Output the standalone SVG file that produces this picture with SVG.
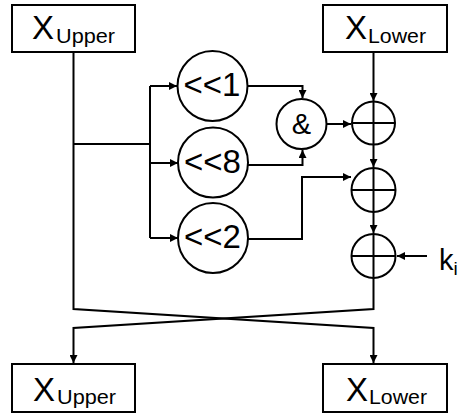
<svg xmlns="http://www.w3.org/2000/svg" width="462" height="414" viewBox="0 0 462 414">
<style>
.box{fill:#fff;stroke:#000;stroke-width:2}
.circ{fill:#fff;stroke:#000;stroke-width:2}
.ln{fill:none;stroke:#000;stroke-width:2}
.big{font-family:"Liberation Sans",Arial,sans-serif;font-size:33px;fill:#000}
.sub{font-family:"Liberation Sans",Arial,sans-serif;font-size:20px;fill:#000}
.op{font-family:"Liberation Sans",Arial,sans-serif;font-size:33px;fill:#000;text-anchor:middle}
</style>
<defs>
<marker id="arr" markerUnits="userSpaceOnUse" markerWidth="9" markerHeight="8" refX="8" refY="4" orient="auto">
<path d="M0,0 L8,4 L0,8 z" fill="#000"/>
</marker>
</defs>
<g id="connectors" class="ln">
<path d="M73.5,52 V309 L373.5,328 V363" marker-end="url(#arr)"/>
<path d="M373.5,278 V309 L73.5,328 V363" marker-end="url(#arr)"/>
<path d="M73.5,144 H150"/>
<path d="M150,86 V238"/>
<path d="M150,86 H177" marker-end="url(#arr)"/>
<path d="M150,163 H178" marker-end="url(#arr)"/>
<path d="M150,238 H178" marker-end="url(#arr)"/>
<path d="M247,86 H302.5 V98" marker-end="url(#arr)"/>
<path d="M248,165 H302.5 V150" marker-end="url(#arr)"/>
<path d="M327,124 H351" marker-end="url(#arr)"/>
<path d="M373.5,52 V101" marker-end="url(#arr)"/>
<path d="M373.5,145 V167" marker-end="url(#arr)"/>
<path d="M248,239 H302 V177 H351" marker-end="url(#arr)"/>
<path d="M373.5,212 V233" marker-end="url(#arr)"/>
<path d="M427,256 H397" marker-end="url(#arr)"/>
</g>
<g id="xupper-in">
<rect class="box" x="12" y="5" width="123" height="47"/>
<text x="32" y="39"><tspan class="big">X</tspan><tspan class="sub" x="56" y="42.5" textLength="59" lengthAdjust="spacingAndGlyphs">Upper</tspan></text>
</g>
<g id="xlower-in">
<rect class="box" x="323" y="5" width="124" height="47"/>
<text x="345" y="39"><tspan class="big">X</tspan><tspan class="sub" x="368" y="42.5" textLength="58" lengthAdjust="spacingAndGlyphs">Lower</tspan></text>
</g>
<g id="shl1">
<circle class="circ" cx="212.5" cy="86" r="35"/>
<text class="op" x="212" y="96">&lt;&lt;1</text>
</g>
<g id="shl8">
<circle class="circ" cx="213" cy="162.5" r="35"/>
<text class="op" x="212.5" y="172.5">&lt;&lt;8</text>
</g>
<g id="shl2">
<circle class="circ" cx="213" cy="238" r="35"/>
<text class="op" x="212.5" y="248">&lt;&lt;2</text>
</g>
<g id="and">
<circle class="circ" cx="301.5" cy="124" r="25"/>
<text class="op" x="301.5" y="134" style="font-size:29px">&amp;</text>
</g>
<g id="xor1">
<circle class="circ" cx="373.5" cy="123" r="21.5"/>
<path class="ln" d="M352,123 H395 M373.5,101.5 V144.5"/>
</g>
<g id="xor2">
<circle class="circ" cx="373.5" cy="190" r="22"/>
<path class="ln" d="M351.5,190 H395.5 M373.5,168 V212"/>
</g>
<g id="xor3">
<circle class="circ" cx="373.5" cy="256" r="22"/>
<path class="ln" d="M351.5,256 H395.5 M373.5,234 V278"/>
</g>
<g id="ki">
<text x="439" y="270"><tspan class="big" style="font-size:29px">k</tspan><tspan class="sub" style="font-size:19px" y="275">i</tspan></text>
</g>
<g id="xupper-out">
<rect class="box" x="12" y="364" width="123" height="48"/>
<text x="33" y="400.5"><tspan class="big">X</tspan><tspan class="sub" x="57" y="404" textLength="59" lengthAdjust="spacingAndGlyphs">Upper</tspan></text>
</g>
<g id="xlower-out">
<rect class="box" x="323" y="364" width="124" height="48"/>
<text x="346" y="400.5"><tspan class="big">X</tspan><tspan class="sub" x="369" y="404" textLength="58" lengthAdjust="spacingAndGlyphs">Lower</tspan></text>
</g>
</svg>
